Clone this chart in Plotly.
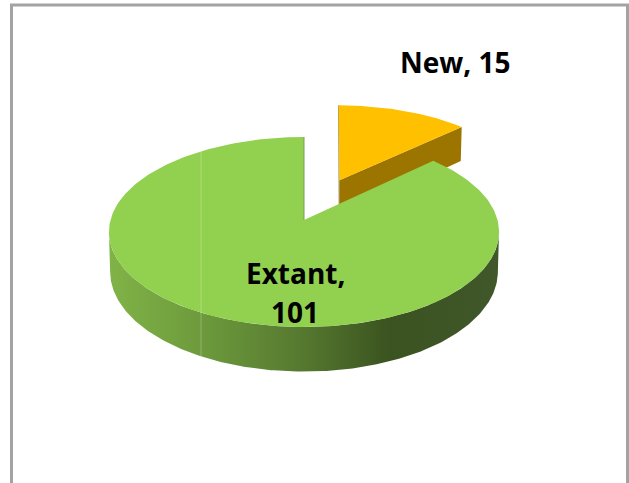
import numpy as np
import plotly.graph_objects as go

categories = ["New", "Extant"]
values = [15, 101]

W, H = 629, 483
CX, CY = 304, 220      # pie centre in picture units
RX, RY = 193.5, 93.5   # disc radii
PERSP = 0.126          # perspective strength
DEPTH = 39.0           # wall height
EXPLODE = 0.49         # slice pull-out, in radii
YELLOW_LEAN = 3.0      # the pulled-out slice leans slightly to the right at the back
SEAM_X = 201
GREEN, YELLOW = "#92D050", "#FFC000"
YELLOW_WALL = "#9C7500"
BORDER = "#A3A3A3"


def project(u, v, depth=0.0, lean=0.0, v0=0.0):
    """Disc coordinates (u to the right, v towards the viewer) to picture units."""
    scale = 1.0 / (1.0 - PERSP * v)
    shrink = 1.0 - 0.006 * (depth > 0)
    return CX + RX * u * scale * shrink - lean * (v - v0), CY + RY * v * scale + depth * scale


def rim(deg_from, deg_to, off=(0.0, 0.0), depth=0.0, n=240, lean=0.0):
    t = np.radians(np.linspace(deg_from, deg_to, n))
    return project(np.sin(t) + off[0], -np.cos(t) + off[1], depth, lean, off[1])


def poly(x, y, **kw):
    return go.Scatter(x=list(x), y=list(y), mode="lines", fill="toself",
                      line=dict(width=0), hoverinfo="skip", showlegend=False, **kw)


def edge(x, y, color, width=1.0):
    return go.Scatter(x=list(x), y=list(y), mode="lines", line=dict(color=color, width=width),
                      hoverinfo="skip", showlegend=False)


new_deg = 360.0 * values[0] / sum(values)
mid = np.radians(new_deg / 2)
off = (EXPLODE * np.sin(mid), -EXPLODE * np.cos(mid))
end = np.radians(new_deg)
corner = (np.sin(end) + off[0], -np.cos(end) + off[1])

fig = go.Figure()

# --- yellow exploded slice ---
ax0, ay0 = project(off[0], off[1])
ax1, ay1 = project(off[0], off[1], DEPTH)
cx0, cy0 = project(corner[0], corner[1], 0, YELLOW_LEAN, off[1])
cx1, cy1 = project(corner[0], corner[1], DEPTH, YELLOW_LEAN, off[1])
fig.add_trace(poly([ax0, cx0, cx1, ax1], [ay0, cy0, cy1, ay1], fillcolor=YELLOW_WALL))
sx, sy = project(off[0], off[1] - 1, 0, YELLOW_LEAN, off[1])
fig.add_trace(edge([sx, ax0, ax1], [sy, ay0, ay1], "#9A8436", 1.0))
rx, ry = rim(0, new_deg, off, lean=YELLOW_LEAN)
fig.add_trace(poly(np.r_[ax0, rx], np.r_[ay0, ry], fillcolor=YELLOW))

# --- green slice: wall, then top ---
theta_ext = np.degrees(np.arccos(-PERSP))
tx, ty = rim(theta_ext, 360 - theta_ext)
bx, by = rim(theta_ext, 360 - theta_ext, depth=DEPTH)
fig.add_trace(poly(np.r_[tx, bx[::-1]], np.r_[ty, by[::-1]],
                   fillgradient=dict(type="horizontal", colorscale=[
                       [0.0, "#80B347"], [0.24, "#6D9A3C"], [0.5, "#55782F"],
                       [0.72, "#3B5320"], [1.0, "#40582A"]])))
gx, gy = rim(new_deg, 360)
c0x, c0y = project(0, 0)
fig.add_trace(poly(np.r_[c0x, gx], np.r_[c0y, gy], fillcolor=GREEN))
tsx, tsy = project(0, -1)
fig.add_trace(edge([tsx, c0x], [tsy, c0y], "#7C9C5A", 1.0))

# faint pale vertical seam across the green slice and its wall
back_x, back_y = rim(270, 360)
seam_top = float(np.interp(SEAM_X, back_x, back_y))
seam_bot = float(np.interp(SEAM_X, bx[::-1][::-1] if bx[0] < bx[-1] else bx[::-1],
                           by if bx[0] < bx[-1] else by[::-1]))
fig.add_trace(edge([SEAM_X, SEAM_X], [seam_top, seam_bot], "rgba(255,255,255,0.25)", 1.0))

# --- labels ---
FONT = dict(family="Open Sans, sans-serif", size=28, color="black", weight=700)
fig.add_annotation(x=455, y=62, text=f"<b>{categories[0]}, {values[0]}</b>", showarrow=False, font=FONT)
fig.add_annotation(x=295, y=273, text=f"<b>{categories[1]},</b>", showarrow=False, font=FONT)
fig.add_annotation(x=295, y=312, text=f"<b>{values[1]}</b>", showarrow=False, font=FONT)

fig.add_shape(type="rect", x0=11.5, y0=5, x1=627.5, y1=H + 10, line=dict(color=BORDER, width=3),
              layer="above")

fig.update_layout(
    width=W, height=H, autosize=False, margin=dict(l=0, r=0, t=0, b=0),
    paper_bgcolor="white", plot_bgcolor="white", showlegend=False,
    xaxis=dict(range=[0, W], visible=False, fixedrange=True),
    yaxis=dict(range=[H, 0], visible=False, fixedrange=True),
)
fig.write_html("out.html", config=dict(displayModeBar=False),
               post_script="document.body.style.margin='0';document.body.style.overflow='hidden';")
